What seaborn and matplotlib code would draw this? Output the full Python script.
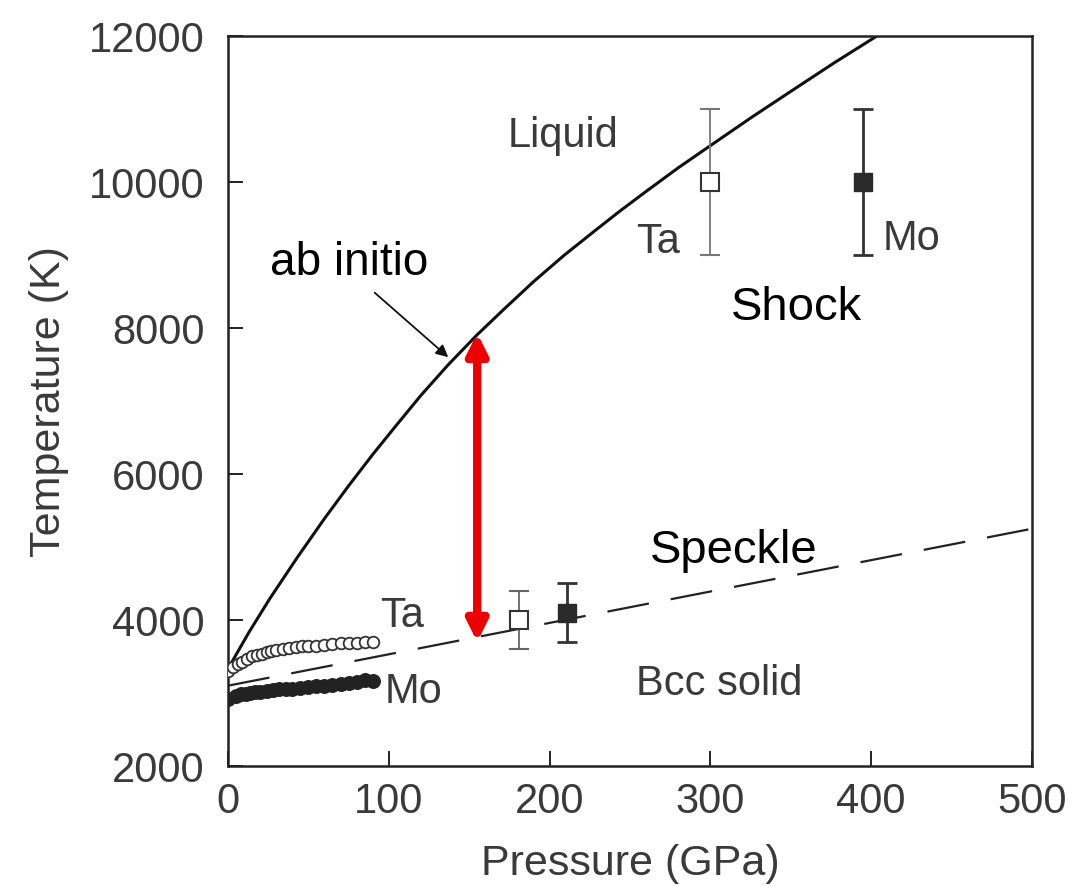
import matplotlib
matplotlib.use("Agg")
import matplotlib.pyplot as plt
import seaborn as sns

# Melting curve (ab initio), P in GPa, T in K
melt_p = [0, 13, 26, 43, 60, 75, 90, 105, 120, 137, 155, 172, 190, 209, 228, 244, 260,
          280, 300, 326, 352, 377, 403]
melt_t = [3330, 3830, 4292, 4853, 5389, 5837, 6267, 6675, 7077, 7497, 7908, 8265, 8634,
          8995, 9329, 9606, 9870, 10194, 10498, 10891, 11270, 11632, 11992]

# Speckle melting line
speckle_p = [0, 500]
speckle_t = [3100, 5250]

# Low-pressure DAC melting data
ta_dac_p = [0, 3, 6, 9, 12, 15, 18, 21, 24, 27, 30, 34, 38, 42, 46, 50, 55, 60, 65, 70, 75, 80, 85, 90]
ta_dac_t = [3300, 3350, 3400, 3430, 3470, 3500, 3520, 3540, 3560, 3570, 3590, 3600, 3610,
            3630, 3640, 3650, 3650, 3660, 3670, 3680, 3690, 3690, 3700, 3700]
mo_dac_p = [0, 5, 8, 11, 14, 17, 20, 24, 28, 32, 36, 40, 45, 50, 55, 60, 65, 70, 75, 80, 85, 90]
mo_dac_t = [2920, 2960, 2980, 2990, 3000, 3010, 3020, 3030, 3040, 3050, 3055, 3060, 3070,
            3080, 3090, 3100, 3110, 3120, 3130, 3150, 3180, 3170]

# Shock and speckle points with uncertainties
shock_p = [300, 395]
shock_t = [10000, 10000]
shock_err = [1000, 1000]
spk_p = [181, 211]
spk_t = [4000, 4100]
spk_err = [400, 400]

# Red double arrow and annotation target
gap_p = 155
gap_t = [3700, 7930]
abinitio_xy = (137, 7600)

sns.set_theme(style="ticks")
plt.rcParams["font.family"] = ["Liberation Sans", "DejaVu Sans"]

fig = plt.figure(figsize=(10.84, 8.87), dpi=100)
ax = fig.add_axes([0.2103, 0.1353, 0.7417, 0.8230])

gray = "#3a3a3a"

sns.lineplot(x=melt_p, y=melt_t, ax=ax, color="#111111", linewidth=2.2, sort=False)
sns.lineplot(x=speckle_p, y=speckle_t, ax=ax, color="#222222", linewidth=1.6,
             sort=False)
ax.lines[-1].set_dashes([19, 10])

sns.scatterplot(x=ta_dac_p, y=ta_dac_t, ax=ax, marker="o", s=70,
                facecolor="white", edgecolor="#333333", linewidth=1.3, zorder=4)
sns.scatterplot(x=mo_dac_p, y=mo_dac_t, ax=ax, marker="o", s=95,
                color="#222222", edgecolor="#222222", linewidth=1, zorder=4)

# Ta (open) and Mo (filled) error-bar points
ax.errorbar([shock_p[0]], [shock_t[0]], yerr=[shock_err[0]], fmt="s", ms=13,
            mfc="white", mec="#333333", mew=1.5, ecolor="#777777", elinewidth=1.3,
            capsize=7, capthick=1.6, zorder=5)
ax.errorbar([shock_p[1]], [shock_t[1]], yerr=[shock_err[1]], fmt="s", ms=13,
            mfc="#2a2a2a", mec="#2a2a2a", ecolor="#333333", elinewidth=2,
            capsize=7, capthick=2, zorder=5)
ax.errorbar([spk_p[0]], [spk_t[0]], yerr=[spk_err[0]], fmt="s", ms=13,
            mfc="white", mec="#333333", mew=1.5, ecolor="#666666", elinewidth=1.3,
            capsize=7, capthick=1.6, zorder=5)
ax.errorbar([spk_p[1]], [spk_t[1]], yerr=[spk_err[1]], fmt="s", ms=13,
            mfc="#2a2a2a", mec="#2a2a2a", ecolor="#333333", elinewidth=2,
            capsize=7, capthick=2, zorder=5)

# Red double-headed arrow between melting curves
ax.annotate("", xy=(gap_p, gap_t[1]), xytext=(gap_p, gap_t[0]),
            arrowprops=dict(arrowstyle="<|-|>", color="#ee0000", lw=6,
                            mutation_scale=30, shrinkA=0, shrinkB=0), zorder=6)

ax.annotate("ab initio", xy=abinitio_xy, xytext=(26, 8740), fontsize=33,
            color="black", va="baseline", ha="left",
            arrowprops=dict(arrowstyle="-|>", color="#111111", lw=1.3,
                            shrinkA=6, shrinkB=0, mutation_scale=18,
                            relpos=(0.6, 0.0)))

scan_kw = dict(color=gray, fontsize=30, va="baseline", ha="left")
ax.text(174, 10493, "Liquid", **scan_kw)
ax.text(254, 9041, "Ta", **scan_kw)
ax.text(407, 9082, "Mo", **scan_kw)
ax.text(94.5, 3918, "Ta", **scan_kw)
ax.text(97.6, 2877, "Mo", **scan_kw)
ax.text(254, 2986, "Bcc solid", **scan_kw)
ax.text(313, 8123, "Shock", fontsize=34, color="black", va="baseline", ha="left")
ax.text(262.5, 4795, "Speckle", fontsize=34, color="black", va="baseline", ha="left")

ax.set_xlim(0, 500)
ax.set_ylim(2000, 12000)
ax.set_xticks([0, 100, 200, 300, 400, 500])
ax.set_yticks([2000, 4000, 6000, 8000, 10000, 12000])
ax.tick_params(direction="in", length=11, width=1.4, color="#222222",
               labelsize=30, labelcolor=gray)
ax.tick_params(axis="y", pad=17)
ax.tick_params(axis="x", pad=11)
for sp in ax.spines.values():
    sp.set_linewidth(1.8)
    sp.set_color("#222222")
ax.set_xlabel("Pressure (GPa)", fontsize=31, color=gray, labelpad=16)
ax.set_ylabel("Temperature (K)", fontsize=31, color=gray, labelpad=14)

fig.savefig("out.png", dpi=100, facecolor="white")
